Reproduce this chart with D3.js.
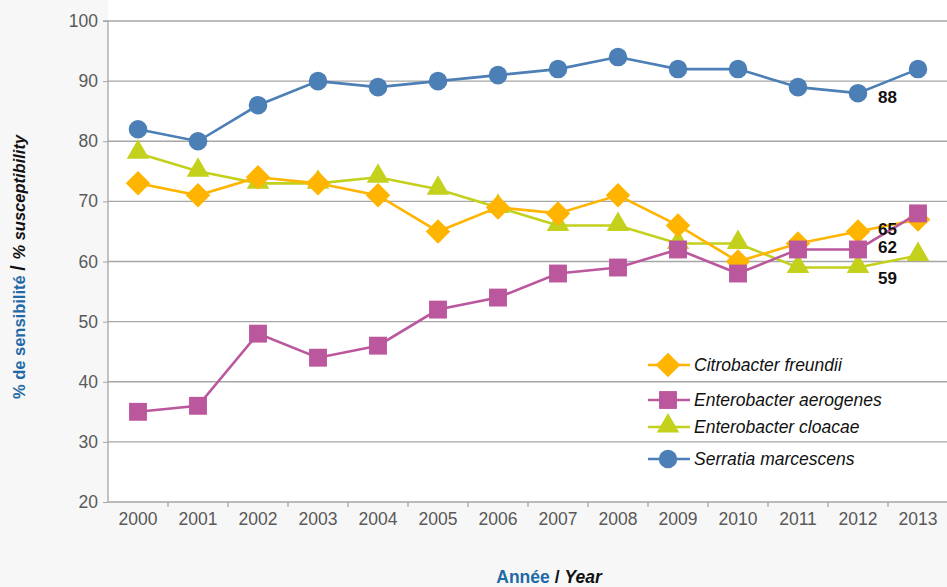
<!DOCTYPE html>
<html><head><meta charset="utf-8">
<script src="https://cdn.jsdelivr.net/npm/d3@7"></script>
<style>
body{margin:0;background:#f7f7f7;}
svg{display:block;font-family:"Liberation Sans",Arial,Helvetica,sans-serif;}
</style></head>
<body><svg id="c" width="947" height="587"></svg>
<script>
const years = ["2000","2001","2002","2003","2004","2005","2006","2007","2008","2009","2010","2011","2012","2013"];
const serratia = [82,80,86,90,89,90,91,92,94,92,92,89,88,92];
const citrobacter = [73,71,74,73,71,65,69,68,71,66,60,63,65,67];
const aerogenes = [35,36,48,44,46,52,54,58,59,62,58,62,62,68];
const cloacae = [78,75,73,73,74,72,69,66,66,63,63,59,59,61];
const yTicks = [20,30,40,50,60,70,80,90,100];
const seriesNames = ["Citrobacter freundii","Enterobacter aerogenes","Enterobacter cloacae","Serratia marcescens"];
const endLabels = [{s:3,i:12,t:"88"},{s:0,i:12,t:"65"},{s:1,i:12,t:"62"},{s:2,i:12,t:"59"}];

const series = [
  {name:seriesNames[0], values:citrobacter, color:"#ffb400", sym:"diamond"},
  {name:seriesNames[1], values:aerogenes, color:"#bb579d", sym:"square"},
  {name:seriesNames[2], values:cloacae, color:"#c3d01c", sym:"triangle"},
  {name:seriesNames[3], values:serratia, color:"#4b7fb5", sym:"circle"}
];
const drawOrder = [2,0,1,3];

const svg = d3.select("#c");
const L=108, R=948, T=21, B=502;
const x = d3.scaleBand().domain(years).range([L,R]);
const y = d3.scaleLinear().domain([20,100]).range([B,T]);

svg.append("rect").attr("x",L).attr("y",0).attr("width",947-L).attr("height",B).attr("fill","#fff");

// gridlines
svg.append("g").selectAll("line").data(yTicks.slice(1)).join("line")
  .attr("x1",L).attr("x2",947).attr("y1",d=>y(d)).attr("y2",d=>y(d))
  .attr("stroke","#a6a6a6").attr("stroke-width",1.3);

// y axis
const ya = svg.append("g").attr("transform",`translate(${L},0)`)
  .call(d3.axisLeft(y).tickValues(yTicks).tickSize(5).tickPadding(5));
ya.select(".domain").attr("stroke","#a6a6a6").attr("stroke-width",1.3).attr("d",`M-5,${T}H0V${B}`);
ya.selectAll(".tick line").attr("stroke","#a6a6a6");
ya.selectAll("text").attr("font-size",17.5).attr("fill","#595959").attr("font-family","Liberation Sans,Arial,sans-serif");

// x axis
const xa = svg.append("g").attr("transform",`translate(0,${B})`)
  .call(d3.axisBottom(x).tickSize(0).tickPadding(11));
xa.select(".domain").attr("stroke","#a6a6a6").attr("stroke-width",1.3).attr("d",`M${L},0H947`);
xa.selectAll("text").attr("font-size",17.5).attr("fill","#595959").attr("font-family","Liberation Sans,Arial,sans-serif");
xa.append("g").selectAll("line").data(years.slice(1)).join("line")
  .attr("x1",d=>x(d)).attr("x2",d=>x(d)).attr("y1",0).attr("y2",5)
  .attr("stroke","#a6a6a6").attr("stroke-width",1.3);

const cx = d=>x(d)+x.bandwidth()/2;
const symSize = {diamond:300, square:320, triangle:220, circle:270};
function symPath(sym){
  const t = {diamond:d3.symbolSquare, square:d3.symbolSquare, triangle:d3.symbolTriangle, circle:d3.symbolCircle}[sym];
  return d3.symbol().type(t).size(symSize[sym])();
}
function symTransform(sym,px,py){
  return sym==="diamond" ? `translate(${px},${py}) rotate(45)` : (sym==="triangle" ? `translate(${px},${py-1})` : `translate(${px},${py})`);
}

const line = d3.line().x((d,i)=>cx(years[i])).y(d=>y(d));
drawOrder.forEach(si=>{
  const s = series[si];
  const g = svg.append("g");
  g.append("path").attr("d",line(s.values)).attr("fill","none").attr("stroke",s.color).attr("stroke-width",2.6);
  g.selectAll("path.m").data(s.values).join("path").attr("class","m")
    .attr("d",symPath(s.sym))
    .attr("transform",(d,i)=>symTransform(s.sym,cx(years[i]),y(d)))
    .attr("fill",s.color);
});

// end labels
const labOff = {"88":4,"65":-2,"62":-2,"59":10};
svg.append("g").selectAll("text").data(endLabels).join("text")
  .attr("x",d=>cx(years[d.i])+20)
  .attr("y",d=>y(series[d.s].values[d.i])+labOff[d.t]+6)
  .attr("font-size",17).attr("font-weight","bold").attr("fill","#111").text(d=>d.t);

// legend
const legY = [365,400,427,459];
const lg = svg.append("g");
series.forEach((s,i)=>{
  const gy = legY[i];
  lg.append("line").attr("x1",648).attr("x2",690).attr("y1",gy).attr("y2",gy).attr("stroke",s.color).attr("stroke-width",2.6);
  lg.append("path").attr("d",symPath(s.sym)).attr("transform",symTransform(s.sym,668,gy)).attr("fill",s.color);
  lg.append("text").attr("x",694).attr("y",gy+6).attr("font-size",17.5).attr("font-style","italic").attr("fill","#111").text(s.name);
});

// axis titles
const yt = svg.append("text").attr("transform","translate(25,267) rotate(-90)").attr("text-anchor","middle")
  .attr("font-size",16.5).attr("font-weight","bold");
yt.append("tspan").attr("fill","#1f6aa6").text("% de sensibilité ");
yt.append("tspan").attr("fill","#111").attr("font-size",20).text("/ ");
yt.append("tspan").attr("fill","#111").attr("font-style","italic").text("% susceptibility");

const xt = svg.append("text").attr("x",549).attr("y",583).attr("text-anchor","middle")
  .attr("font-size",17.5).attr("font-weight","bold");
xt.append("tspan").attr("fill","#1f6aa6").text("Année ");
xt.append("tspan").attr("fill","#111").text("/ ");
xt.append("tspan").attr("fill","#111").attr("font-style","italic").text("Year");
</script></body></html>
